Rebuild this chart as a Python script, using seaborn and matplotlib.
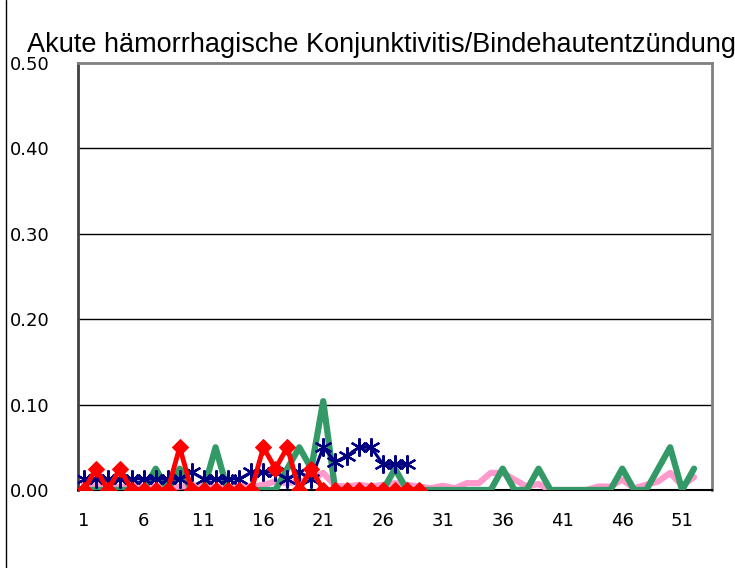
import matplotlib
matplotlib.use("Agg")
import matplotlib.pyplot as plt
import seaborn as sns
import numpy as np
from matplotlib.lines import Line2D

# ---- data ----
weeks = list(range(1, 53))
tick_weeks = [1, 6, 11, 16, 21, 26, 31, 36, 41, 46, 51]
y_ticks = [0.0, 0.1, 0.2, 0.3, 0.4, 0.5]
y_tick_labels = ["0.00", "0.10", "0.20", "0.30", "0.40", "0.50"]
title = "Akute hämorrhagische Konjunktivitis/Bindehautentzündung"

pink_vals = [0.008, 0.005, 0.005, 0.003, 0.006, 0.004, 0.005, 0.003, 0.004, 0.005,
             0.006, 0.004, 0.003, 0.005, 0.004, 0.006, 0.010, 0.008, 0.010, 0.012,
             0.020, 0.005, 0.004, 0.006, 0.004, 0.006, 0.008, 0.006, 0.004, 0.002,
             0.005, 0.002, 0.008, 0.008, 0.020, 0.020, 0.012, 0.004, 0.007, 0.000,
             0.000, 0.000, 0.000, 0.004, 0.004, 0.012, 0.002, 0.006, 0.010, 0.020,
             0.005, 0.015]
green_vals = [0, 0, 0, 0, 0, 0, 0.025, 0, 0.025, 0,
              0, 0.05, 0, 0, 0, 0, 0, 0.025, 0.05, 0.025,
              0.104, 0, 0, 0, 0, 0, 0.025, 0, 0, 0,
              0, 0, 0, 0, 0, 0.025, 0, 0, 0.025, 0,
              0, 0, 0, 0, 0, 0.025, 0, 0, 0.025, 0.05,
              0, 0.025]
blue_weeks = list(range(1, 29))
blue_vals = [0.013, 0.013, 0.013, 0.013, 0.013, 0.013, 0.013, 0.013, 0.013, 0.021,
             0.013, 0.013, 0.013, 0.013, 0.021, 0.021, 0.021, 0.013, 0.021, 0.013,
             0.05, 0.033, 0.04, 0.05, 0.05, 0.03, 0.03, 0.03]
red_weeks = list(range(1, 30))
red_vals = [0, 0.025, 0, 0.025, 0, 0, 0, 0, 0.05, 0,
            0, 0, 0, 0, 0, 0.05, 0.025, 0.05, 0, 0.025,
            0, 0, 0, 0, 0, 0, 0, 0, 0]

# ---- style ----
sns.set_style("white")
plt.rcParams["font.family"] = ["DejaVu Sans"]
plt.rcParams["text.color"] = "black"
plt.rcParams["xtick.color"] = "black"
plt.rcParams["ytick.color"] = "black"

W, H = 735, 568
fig = plt.figure(figsize=(W / 100, H / 100), dpi=100)
L, R, T, B = 78, 712, 63, 490
ax = fig.add_axes([L / W, 1 - B / H, (R - L) / W, (B - T) / H])

sns.lineplot(x=weeks, y=pink_vals, color="#FF99CC", lw=4.5, ax=ax, zorder=3)
sns.lineplot(x=weeks, y=green_vals, color="#339966", lw=4.5, ax=ax, zorder=4)
sns.lineplot(x=blue_weeks, y=blue_vals, color="#000080", lw=2.2, ax=ax, zorder=5,
             marker=(6, 2, 0), markersize=13, markeredgewidth=1.6,
             markeredgecolor="#000080")
sns.lineplot(x=red_weeks, y=red_vals, color="#FF0000", lw=3.5, ax=ax, zorder=6,
             marker="D", markersize=8, markeredgecolor="#FF0000",
             markerfacecolor="#FF0000")

ax.set_xlim(0.5, 53.5)
ax.set_ylim(0, 0.5)

for yv in y_ticks[1:-1]:
    ax.axhline(yv, color="black", lw=1, zorder=1)

ax.set_yticks(y_ticks)
ax.set_yticklabels(y_tick_labels)
ax.set_xticks(tick_weeks)
ax.set_xticklabels([str(t) for t in tick_weeks])
ax.set_xticks([0.5 + 5 * k for k in range(11)], minor=True)
ax.tick_params(axis="x", which="major", length=0, pad=16, labelsize=13,
               labelcolor="black")
ax.tick_params(axis="x", which="minor", length=5, direction="in", width=1, color="black")
ax.tick_params(axis="y", which="major", length=0, pad=0, labelsize=13,
               labelcolor="black")
for lab in ax.get_yticklabels():
    lab.set_horizontalalignment("left")
    lab.set_x(-(L - 10) / (R - L))

for side in ["top", "right"]:
    ax.spines[side].set_color("#808080")
    ax.spines[side].set_linewidth(2)
ax.spines["left"].set_color("#404040")
ax.spines["left"].set_linewidth(2)
ax.spines["bottom"].set_color("black")
ax.spines["bottom"].set_linewidth(1.5)
ax.set_xlabel("")
ax.set_ylabel("")

fig.text(27 / W, 1 - 45 / H, title, ha="left", va="center", fontsize=19.5,
         color="black", family=["Liberation Sans", "DejaVu Sans"])

fig.add_artist(Line2D([6 / W, 6 / W], [0, 1], color="black", lw=1,
                      transform=fig.transFigure))

fig.savefig("out.png", dpi=100)
